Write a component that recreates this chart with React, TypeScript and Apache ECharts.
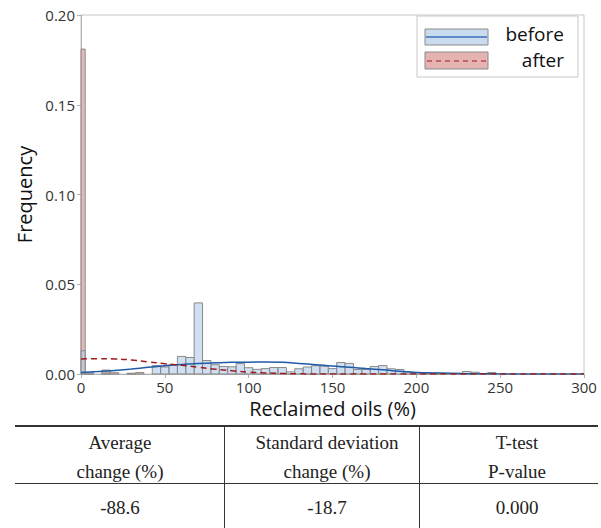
import React, { useEffect, useRef } from "react";
import * as echarts from "echarts";

const binCenters = [0, 5, 10, 15, 20, 25, 30, 35, 40, 45, 50, 55, 60, 65, 70, 75, 80, 85, 90, 95, 100, 105, 110, 115, 120, 125, 130, 135, 140, 145, 150, 155, 160, 165, 170, 175, 180, 185, 190, 195, 200, 205, 210, 215, 220, 225, 230, 235, 240, 245];
const beforeFreq = [0.013, 0.0006, 0, 0.0005, 0, 0, 0.0003, 0, 0, 0.0047, 0.0039, 0.0052, 0.0098, 0.0092, 0.0396, 0.0075, 0.0052, 0.0042, 0.004, 0.0058, 0.0035, 0.0026, 0.003, 0.0036, 0.0036, 0.0012, 0.0029, 0.0039, 0.0046, 0.0043, 0.003, 0.0064, 0.0059, 0.0025, 0.0025, 0.0042, 0.0047, 0.0029, 0.0025, 0.0012, 0.0009, 0.0007, 0.0005, 0.0004, 0.0003, 0.0004, 0.0014, 0.001, 0.0003, 0.0008];
const afterFreq = [0.181, 0.0004, 0, 0.0022, 0.0007, 0, 0.0004, 0.0008, 0, 0, 0, 0, 0, 0, 0, 0, 0, 0, 0, 0, 0, 0, 0, 0, 0, 0, 0, 0, 0, 0, 0, 0, 0, 0, 0, 0, 0, 0, 0, 0, 0, 0, 0, 0, 0, 0, 0, 0, 0, 0];
const binWidth = 5;

const fitX = [0, 10, 20, 30, 40, 50, 60, 70, 80, 90, 100, 110, 120, 130, 140, 150, 160, 170, 180, 190, 200, 210, 220, 230, 240, 250, 260, 270, 280, 290, 300];
const beforeFit = [0.0009, 0.0014, 0.002, 0.0028, 0.0037, 0.0046, 0.0053, 0.0058, 0.0062, 0.0065, 0.0066, 0.0067, 0.0065, 0.0059, 0.0052, 0.0044, 0.0038, 0.003, 0.0023, 0.0015, 0.0009, 0.0006, 0.0004, 0.0002, 0.0001, 0.00005, 0, 0, 0, 0, 0];
const afterFit = [0.0084, 0.0085, 0.0084, 0.0078, 0.0068, 0.0057, 0.0049, 0.0038, 0.0027, 0.0018, 0.001, 0.0006, 0.0003, 0.0001, 0, 0, 0, 0, 0, 0, 0, 0, 0, 0, 0, 0, 0, 0, 0, 0, 0];

const legendNames = ["before", "after"];
const tableHeaders = [["Average", "change (%)"], ["Standard deviation", "change (%)"], ["T-test", "P-value"]];
const tableValues = ["-88.6", "-18.7", "0.000"];

const SANS = "'Open Sans', 'Noto Sans', sans-serif";
const SERIF = "'Liberation Serif', 'DejaVu Serif', serif";

function histSeries(name: string, values: number[], fill: string) {
  return {
    name,
    type: "custom",
    data: binCenters.map((c, i) => [c, values[i]]),
    renderItem: (params: any, api: any) => {
      const c = api.value(0);
      const h = api.value(1);
      if (!h) return null;
      const left = Math.max(c - binWidth / 2, 0);
      const p1 = api.coord([left, h]);
      const p2 = api.coord([c + binWidth / 2, 0]);
      return {
        type: "rect",
        shape: { x: p1[0], y: p1[1], width: p2[0] - p1[0], height: p2[1] - p1[1] },
        style: { fill, stroke: "#8a8a8a", lineWidth: 1 },
      };
    },
    encode: { x: 0, y: 1 },
    z: 2,
  };
}

export default function App() {
  const ref = useRef<HTMLDivElement>(null);
  useEffect(() => {
    if (!ref.current) return;
    const chart = echarts.init(ref.current, undefined, { renderer: "svg" });
    const colCenters = [120, 327, 517];
    const graphics: any[] = [
      // legend
      { type: "rect", shape: { x: 417, y: 16, width: 161, height: 61 }, style: { fill: "#fff", stroke: "#c8c8c8", lineWidth: 1 }, z: 10 },
      { type: "rect", shape: { x: 425, y: 29, width: 63, height: 16 }, style: { fill: "#c9dbef", stroke: "#8a8a8a", lineWidth: 1 }, z: 11 },
      { type: "line", shape: { x1: 426, y1: 37, x2: 487, y2: 37 }, style: { stroke: "#3d70b8", lineWidth: 1.5 }, z: 12 },
      { type: "rect", shape: { x: 425, y: 52, width: 63, height: 17 }, style: { fill: "#e6b3b3", stroke: "#8a8a8a", lineWidth: 1 }, z: 11 },
      { type: "line", shape: { x1: 427, y1: 61, x2: 487, y2: 61 }, style: { stroke: "#9e1b1b", lineWidth: 1.2, lineDash: [5, 4] }, z: 12 },
      { type: "text", x: 564, y: 34, style: { text: legendNames[0], fill: "#111", font: `19px ${SANS}`, lineHeight: 19, align: "right", verticalAlign: "middle" }, z: 12 },
      { type: "text", x: 564, y: 60, style: { text: legendNames[1], fill: "#111", font: `19px ${SANS}`, lineHeight: 19, align: "right", verticalAlign: "middle" }, z: 12 },
      // table
      { type: "line", shape: { x1: 15, y1: 426, x2: 598, y2: 426 }, style: { stroke: "#333", lineWidth: 2 } },
      { type: "line", shape: { x1: 15, y1: 483.5, x2: 598, y2: 483.5 }, style: { stroke: "#333", lineWidth: 1 } },
      { type: "line", shape: { x1: 224.5, y1: 426, x2: 224.5, y2: 528 }, style: { stroke: "#333", lineWidth: 1 } },
      { type: "line", shape: { x1: 419.5, y1: 426, x2: 419.5, y2: 528 }, style: { stroke: "#333", lineWidth: 1 } },
    ];
    tableHeaders.forEach((lines, i) => {
      graphics.push({ type: "text", x: colCenters[i], y: 442, style: { text: lines[0], fill: "#222", font: `19px ${SERIF}`, align: "center", verticalAlign: "middle" } });
      graphics.push({ type: "text", x: colCenters[i], y: 471, style: { text: lines[1], fill: "#222", font: `19px ${SERIF}`, align: "center", verticalAlign: "middle" } });
      graphics.push({ type: "text", x: colCenters[i], y: 507, style: { text: tableValues[i], fill: "#222", font: `19px ${SERIF}`, align: "center", verticalAlign: "middle" } });
    });

    chart.setOption({
      animation: false,
      backgroundColor: "#fff",
      grid: { left: 81, top: 15, right: 17, bottom: 154, show: true, borderColor: "#c8c8c8", borderWidth: 1, containLabel: false },
      xAxis: {
        type: "value",
        min: 0,
        max: 300,
        interval: 50,
        name: "Reclaimed oils (%)",
        nameLocation: "middle",
        nameGap: 24,
        nameTextStyle: { fontSize: 20, color: "#111", fontFamily: SANS },
        axisLine: { show: true, lineStyle: { color: "#b0b0b0" } },
        axisTick: { show: true, length: 4, lineStyle: { color: "#b0b0b0" } },
        axisLabel: { fontSize: 15, color: "#333", fontFamily: SANS, margin: 5 },
        splitLine: { show: false },
      },
      yAxis: {
        type: "value",
        min: 0,
        max: 0.2,
        interval: 0.05,
        name: "Frequency",
        nameLocation: "middle",
        nameGap: 46,
        nameTextStyle: { fontSize: 20, color: "#111", fontFamily: SANS },
        axisLine: { show: true, lineStyle: { color: "#b0b0b0" } },
        axisTick: { show: true, length: 4, lineStyle: { color: "#b0b0b0" } },
        axisLabel: { fontSize: 15, color: "#333", fontFamily: SANS, margin: 6, formatter: (v: number) => v.toFixed(2) },
        splitLine: { show: false },
      },
      series: [
        histSeries("after", afterFreq, "rgba(222,160,160,0.75)"),
        histSeries("before", beforeFreq, "rgba(176,204,234,0.6)"),
        {
          name: "before fit",
          type: "line",
          data: fitX.map((x, i) => [x, beforeFit[i]]),
          smooth: true,
          showSymbol: false,
          lineStyle: { color: "#1f5aa8", width: 1.5 },
          z: 5,
        },
        {
          name: "after fit",
          type: "line",
          data: fitX.map((x, i) => [x, afterFit[i]]),
          smooth: true,
          showSymbol: false,
          lineStyle: { color: "#9e1b1b", width: 1.5, type: [6, 4] },
          z: 5,
        },
      ],
      graphic: graphics,
    });
    return () => chart.dispose();
  }, []);
  return <div ref={ref} style={{ position: "fixed", left: 0, top: 0, width: 601, height: 528 }} />;
}
